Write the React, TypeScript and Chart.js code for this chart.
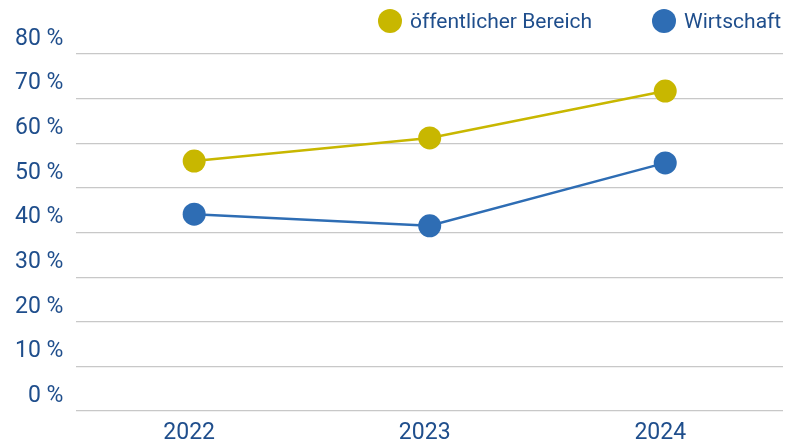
import React, { useEffect, useRef } from "react";
import { Chart, registerables } from "chart.js";

Chart.register(...registerables);

const years = ["2022", "2023", "2024"];
const oeffentlich = [56.0, 61.2, 71.7];
const wirtschaft = [44.1, 41.5, 55.6];
const seriesNames = ["öffentlicher Bereich", "Wirtschaft"];

const YELLOW = "#C8B700";
const BLUE = "#2E6DB4";
const TEXT = "#1F4E8C";
const colors = [YELLOW, BLUE];
const legendX = [378, 652];

export default function App() {
  const ref = useRef<HTMLCanvasElement | null>(null);
  useEffect(() => {
    document.body.style.margin = "0";
    const ctx = ref.current!;
    const chart = new Chart(ctx, {
      type: "line",
      data: {
        labels: years,
        datasets: [oeffentlich, wirtschaft].map((d, i) => ({
          label: seriesNames[i],
          data: d,
          borderColor: colors[i],
          backgroundColor: colors[i],
          borderWidth: 2.5,
          pointRadius: 11.5,
          pointHoverRadius: 11.5,
          pointBorderWidth: 0,
          tension: 0,
        })),
      },
      options: {
        animation: false,
        responsive: false,
        layout: { autoPadding: false, padding: { left: 2, right: 2, top: 54, bottom: 0 } },
        plugins: {
          tooltip: { enabled: false },
          legend: { display: false },
        },
        scales: {
          x: {
            offset: true,
            grid: { display: false, drawTicks: false },
            border: { display: false },
            afterFit: (s: any) => {
              s.height = 30;
            },
            ticks: {
              color: TEXT,
              font: { family: "Roboto", size: 23, lineHeight: 1 },
              padding: 11,
              labelOffset: -5,
            },
          },
          y: {
            min: 0,
            max: 80,
            grid: { color: "#C8C8C8", lineWidth: 1.2, drawTicks: false },
            border: { display: false },
            ticks: {
              stepSize: 10,
              color: TEXT,
              font: { family: "Roboto", size: 23 },
              padding: 13,
              labelOffset: -15,
              callback: (v: any) => `${v} %`,
            },
          },
        },
      },
    });
    return () => chart.destroy();
  }, []);
  return (
    <div style={{ width: 785, height: 441, position: "relative", overflow: "hidden" }}>
      <canvas ref={ref} width={785} height={441} style={{ display: "block" }} />
      {seriesNames.map((n, i) => (
        <div
          key={n}
          style={{
            position: "absolute",
            left: legendX[i],
            top: 9,
            height: 24,
            display: "flex",
            alignItems: "center",
            fontFamily: "Roboto",
            fontSize: 21,
            color: TEXT,
            whiteSpace: "nowrap",
          }}
        >
          <span
            style={{
              display: "inline-block",
              width: 24,
              height: 24,
              borderRadius: "50%",
              background: colors[i],
              marginRight: 8,
            }}
          />
          <span>{n}</span>
        </div>
      ))}
    </div>
  );
}
